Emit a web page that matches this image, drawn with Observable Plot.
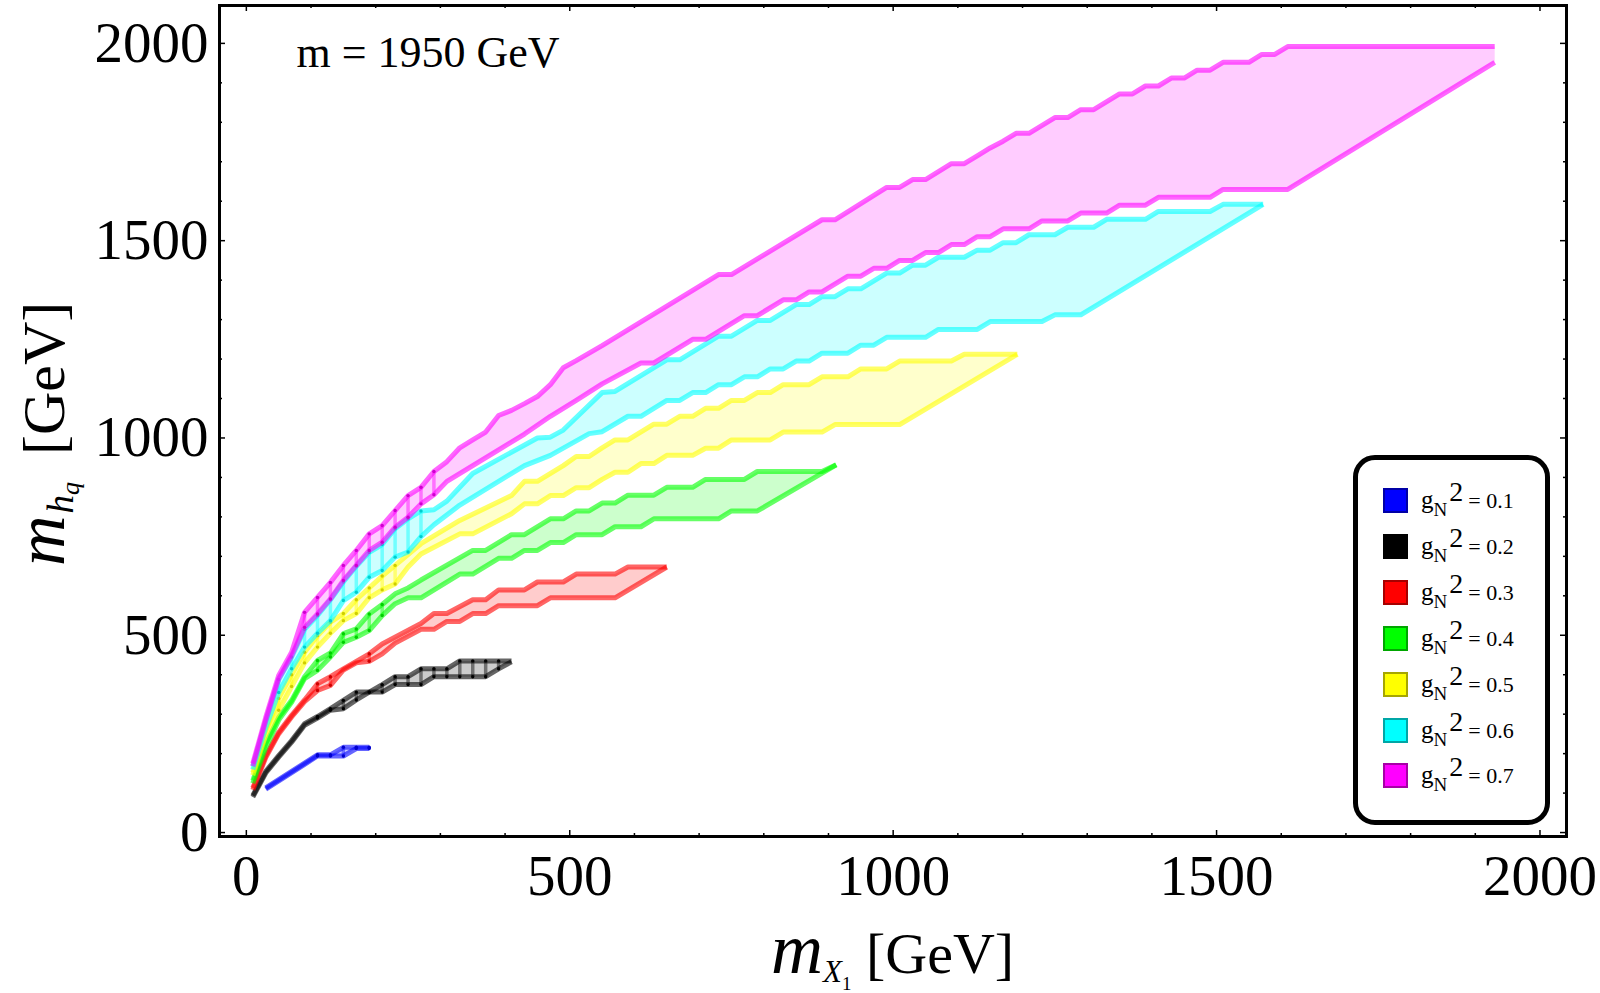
<!DOCTYPE html>
<html><head><meta charset="utf-8">
<script src="https://cdn.jsdelivr.net/npm/d3@7"></script>
<script src="https://cdn.jsdelivr.net/npm/@observablehq/plot@0.6"></script>
<style>
body{margin:0;background:#fff;}
#wrap{position:relative;width:1600px;height:993px;font-family:"Liberation Serif",serif;overflow:hidden;}
#legend{position:absolute;left:1353px;top:455px;width:187px;height:360px;border:5px solid #000;border-radius:22px;background:#fff;box-sizing:content-box;}
.row{position:absolute;left:25px;height:25px;}
.sw{position:absolute;left:0;top:0;width:21px;height:21px;border:2px solid rgba(0,0,0,0.35);}
.lt{position:absolute;left:38px;top:-5px;white-space:nowrap;color:#000;font-family:"Liberation Serif",serif;}
</style></head><body><div id="wrap"></div>
<script>
// ---- data ----
const gN2Values = ["0.1","0.2","0.3","0.4","0.5","0.6","0.7"];
const bandColors = ["#0000ff","#000000","#ff0000","#00ff00","#ffff00","#00ffff","#ff00ff"];
const xTicks = [0,500,1000,1500,2000];
const yTicks = [0,500,1000,1500,2000];
const annotation = "m = 1950 GeV";

const blueUpper = [[30,113],[50,134],[70,155],[90,176],[110,197],[130,197],[150,216],[190,216]];
const blueLower = [[30,110],[50,131],[70,152],[90,173],[110,194],[150,194],[170,213],[190,213]];

const blackUpper = [[10,94],[30,155],[50,195],[70,233],[90,276],[110,294],[130,314],[150,335],[170,356],[190,356],[210,375],[230,395],[250,395],[270,415],[310,415],[330,435],[410,435]];
const blackLower = [[10,90],[30,151],[50,191],[70,229],[90,272],[110,290],[130,310],[150,314],[170,336],[190,356],[210,356],[230,375],[270,375],[290,395],[370,395],[390,415],[410,433]];

const redUpper = [[10,113],[30,195],[50,254],[70,297],[90,336],[110,377],[130,395],[150,415],[170,434],[190,453],[210,478],[270,530],[290,555],[310,555],[350,590],[370,590],[390,615],[430,615],[450,635],[490,635],[510,655],[570,655],[590,673],[650,673]];
const redLower = [[10,108],[30,190],[50,250],[70,293],[90,332],[110,360],[130,373],[150,412],[170,430],[190,434],[210,453],[230,480],[270,515],[290,515],[310,535],[330,535],[350,555],[370,555],[390,575],[450,575],[470,595],[570,595],[650,673]];

const greenUpper = [[10,132],[30,225],[50,292],[70,335],[90,395],[110,436],[130,455],[150,504],[170,516],[190,554],[210,578],[230,605],[250,620],[270,640],[350,715],[370,715],[410,755],[430,755],[470,795],[490,795],[510,815],[530,815],[550,835],[570,835],[590,855],[630,855],[650,875],[690,875],[710,895],[770,895],[790,915],[890,915],[912,932]];
const greenLower = [[10,125],[30,215],[50,285],[70,330],[90,390],[110,411],[130,445],[150,482],[170,495],[190,512],[210,550],[230,580],[250,595],[270,595],[330,655],[350,655],[390,695],[410,695],[430,715],[450,715],[470,735],[490,735],[510,755],[550,755],[570,775],[610,775],[630,795],[730,795],[750,815],[790,815],[912,932]];

const yellowUpper = [[10,152],[30,258],[50,340],[70,400],[90,457],[110,499],[130,533],[150,555],[170,590],[190,620],[210,650],[230,677],[270,732],[330,791],[410,854],[430,890],[450,890],[490,930],[510,953],[530,953],[550,975],[570,995],[590,995],[630,1035],[650,1035],[670,1055],[690,1055],[710,1075],[730,1075],[750,1095],[770,1095],[790,1115],[810,1115],[830,1135],[870,1135],[890,1155],[930,1155],[950,1175],[990,1175],[1010,1195],[1090,1195],[1110,1212],[1192,1212]];
const yellowLower = [[10,145],[30,248],[50,310],[70,370],[90,430],[110,470],[130,505],[150,537],[170,555],[190,595],[210,615],[230,630],[250,673],[270,706],[330,757],[350,757],[410,808],[430,833],[450,833],[470,854],[490,854],[510,874],[530,874],[550,895],[570,913],[590,913],[610,935],[630,935],[650,956],[690,956],[710,974],[730,974],[750,995],[810,995],[830,1015],[890,1015],[910,1034],[1010,1034],[1192,1212]];

const cyanUpper = [[10,168],[30,282],[50,388],[70,445],[90,515],[110,550],[130,590],[150,635],[170,675],[190,710],[210,730],[230,770],[250,795],[270,815],[290,818],[310,840],[330,875],[350,910],[450,1000],[470,1002],[490,1020],[550,1115],[570,1118],[650,1198],[670,1198],[730,1258],[750,1258],[790,1298],[810,1298],[850,1338],[870,1338],[890,1358],[910,1358],[930,1378],[950,1378],[990,1418],[1010,1418],[1030,1438],[1050,1438],[1070,1458],[1110,1458],[1130,1476],[1150,1476],[1170,1495],[1190,1495],[1210,1515],[1250,1515],[1270,1534],[1310,1534],[1330,1554],[1390,1554],[1410,1574],[1490,1574],[1510,1592],[1572,1592]];
const cyanLower = [[10,160],[30,265],[50,355],[70,415],[90,470],[110,505],[130,537],[150,588],[170,609],[190,647],[210,664],[230,698],[250,711],[270,750],[290,780],[330,830],[430,930],[470,956],[530,1011],[550,1016],[590,1055],[610,1055],[650,1095],[670,1095],[690,1115],[710,1115],[730,1135],[750,1135],[770,1155],[790,1155],[810,1175],[830,1175],[850,1195],[870,1195],[890,1215],[930,1215],[950,1235],[970,1235],[990,1255],[1050,1255],[1070,1275],[1130,1275],[1150,1295],[1230,1295],[1250,1312],[1290,1312],[1572,1592]];

const magentaUpper = [[10,175],[30,292],[50,398],[70,457],[90,558],[110,596],[130,634],[150,677],[170,715],[190,757],[210,778],[230,816],[250,854],[270,875],[290,915],[310,940],[330,975],[350,995],[370,1015],[390,1057],[410,1070],[430,1087],[450,1105],[470,1135],[490,1178],[510,1196],[550,1234],[730,1414],[750,1414],[890,1553],[910,1553],[990,1635],[1010,1635],[1030,1655],[1050,1655],[1070,1675],[1090,1695],[1110,1695],[1130,1715],[1150,1735],[1170,1752],[1190,1772],[1210,1772],[1250,1812],[1270,1812],[1290,1832],[1310,1832],[1350,1872],[1370,1872],[1390,1892],[1410,1892],[1430,1912],[1450,1912],[1470,1932],[1490,1932],[1510,1952],[1550,1952],[1570,1972],[1590,1972],[1610,1992],[1930,1992]];
const magentaLower = [[10,168],[30,284],[50,390],[70,448],[90,520],[110,554],[130,592],[150,639],[170,677],[190,715],[210,736],[230,774],[250,799],[270,833],[290,856],[310,890],[350,930],[390,970],[430,1010],[470,1055],[510,1095],[550,1137],[610,1190],[630,1190],[690,1250],[710,1250],[770,1310],[790,1310],[830,1350],[850,1350],[870,1370],[890,1370],[930,1410],[950,1410],[970,1430],[990,1430],[1010,1450],[1030,1450],[1050,1470],[1070,1470],[1090,1490],[1110,1490],[1130,1510],[1150,1510],[1170,1530],[1210,1530],[1230,1550],[1270,1550],[1290,1570],[1330,1570],[1350,1590],[1390,1590],[1410,1610],[1490,1610],[1510,1630],[1610,1630],[1930,1952]];

// mesh (grid) x positions visible as darker vertical bars
const blueMesh = [110,130,150,170,190];
const blackMesh = [110,130,150,170,190,210,230,250,270,290,310,330,350,370,390];
const redMesh = [110,130,190];
const greenMesh = [110,130,150,170,190,210];
const yellowMesh = [50,70,90,110,130,150,170,190,210,230];
const cyanMesh = [50,70,90,110,130,150,170,190,210,230,250,270];
const magentaMesh = [90,110,130,150,170,190,210,230,250,270,290];

const bands = [
  {upper: blueUpper, lower: blueLower, mesh: blueMesh},
  {upper: blackUpper, lower: blackLower, mesh: blackMesh},
  {upper: redUpper, lower: redLower, mesh: redMesh},
  {upper: greenUpper, lower: greenLower, mesh: greenMesh},
  {upper: yellowUpper, lower: yellowLower, mesh: yellowMesh},
  {upper: cyanUpper, lower: cyanLower, mesh: cyanMesh},
  {upper: magentaUpper, lower: magentaLower, mesh: magentaMesh}
].map((b, i) => ({...b, color: bandColors[i], label: gN2Values[i]}));

// ---- layout ----
const W = 1600, H = 993;
const mL = 219, mR = 34, mT = 5, mB = 157;
const plotW = W - mL - mR, plotH = H - mT - mB;

function interp(arr, x) {
  for (let i = 0; i < arr.length - 1; i++) {
    const [x0, y0] = arr[i], [x1, y1] = arr[i + 1];
    if (x >= x0 && x <= x1) return x1 === x0 ? y0 : y0 + (y1 - y0) * (x - x0) / (x1 - x0);
  }
  return arr[arr.length - 1][1];
}

const marks = [];
bands.forEach(b => {
  const poly = b.upper.concat(b.lower.slice().reverse());
  marks.push(Plot.line(poly, {x: d => d[0], y: d => d[1], fill: b.color, fillOpacity: 0.2, stroke: "none"}));
  const meshRows = b.mesh.map(x => ({x, y1: interp(b.lower, x), y2: interp(b.upper, x)}));
  marks.push(Plot.ruleX(meshRows, {x: "x", y1: "y1", y2: "y2", stroke: b.color, strokeOpacity: 0.45, strokeWidth: 3.5}));
  const sw = 5;
  marks.push(Plot.line(b.upper, {x: d => d[0], y: d => d[1], stroke: b.color, strokeOpacity: 0.6, strokeWidth: sw, strokeLinejoin: "round", strokeLinecap: "butt"}));
  marks.push(Plot.line(b.lower, {x: d => d[0], y: d => d[1], stroke: b.color, strokeOpacity: 0.6, strokeWidth: sw, strokeLinejoin: "round", strokeLinecap: "butt"}));
  const dots = meshRows.flatMap(r => [{x: r.x, y: r.y1}, {x: r.x, y: r.y2}]);
  marks.push(Plot.dot(dots, {x: "x", y: "y", r: 1.7, fill: b.color === "#000000" ? "#000" : d3.color(b.color).darker(0.6).formatHex(), stroke: "none"}));
});

const xMinor = d3.range(0, 2001, 100).filter(v => !xTicks.includes(v));
const yMinor = d3.range(0, 2001, 100).filter(v => !yTicks.includes(v));
const tickStyle = {stroke: "#000", strokeWidth: 1.5};
const fmt = d => String(d);

marks.push(
  Plot.tickX(xTicks, {x: d => d, insetTop: plotH - 6, ...tickStyle}),
  Plot.tickX(xTicks, {x: d => d, insetBottom: plotH - 6, ...tickStyle}),
  Plot.tickX(xMinor, {x: d => d, insetTop: plotH - 3, ...tickStyle}),
  Plot.tickX(xMinor, {x: d => d, insetBottom: plotH - 3, ...tickStyle}),
  Plot.tickY(yTicks, {y: d => d, insetRight: plotW - 6, ...tickStyle}),
  Plot.tickY(yTicks, {y: d => d, insetLeft: plotW - 6, ...tickStyle}),
  Plot.tickY(yMinor, {y: d => d, insetRight: plotW - 3, ...tickStyle}),
  Plot.tickY(yMinor, {y: d => d, insetLeft: plotW - 3, ...tickStyle}),
  Plot.axisX(xTicks, {anchor: "bottom", tickSize: 0, tickPadding: 18, fontSize: 57, label: null, fill: "#000", tickFormat: fmt}),
  Plot.axisY(yTicks, {anchor: "left", tickSize: 0, tickPadding: 11, fontSize: 57, label: null, fill: "#000", tickFormat: fmt}),
  Plot.frame({stroke: "#000", strokeWidth: 3}),
  Plot.text([annotation], {frameAnchor: "top-left", dx: 77, dy: 47, textAnchor: "start", lineAnchor: "middle", fontSize: 44, fill: "#000"})
);

const chart = Plot.plot({
  width: W, height: H,
  marginLeft: mL, marginRight: mR, marginTop: mT, marginBottom: mB,
  x: {domain: [-41.5, 2041], axis: null},
  y: {domain: [-10, 2096], axis: null},
  style: {fontFamily: "Liberation Serif, serif", background: "#fff", color: "#000", overflow: "visible"},
  marks
});

const wrap = document.getElementById("wrap");
wrap.appendChild(chart);

// axis titles with sub/superscripts
const svg = d3.select(chart);
const xl = svg.append("text").attr("x", 771).attr("y", 973).attr("text-anchor", "start").attr("font-family", "Liberation Serif, serif").attr("font-size", 58).attr("fill", "#000");
xl.append("tspan").attr("font-style", "italic").attr("font-size", 72).text("m");
xl.append("tspan").attr("font-style", "italic").attr("font-size", 31).attr("dy", 9).text("X");
xl.append("tspan").attr("font-size", 19).attr("dy", 8).text("1");
xl.append("tspan").attr("dy", -17).text(" [GeV]");

const yl = svg.append("text").attr("transform", "translate(64,566) rotate(-90)").attr("text-anchor", "start").attr("font-family", "Liberation Serif, serif").attr("font-size", 60).attr("fill", "#000");
yl.append("tspan").attr("font-style", "italic").attr("font-size", 70).text("m");
yl.append("tspan").attr("font-style", "italic").attr("font-size", 37).attr("dx", 2).attr("dy", 9).text("h");
yl.append("tspan").attr("font-style", "italic").attr("font-size", 26).attr("dy", 6).text("q");
yl.append("tspan").attr("dx", 12).attr("dy", -15).text(" [GeV]");

// legend
const legend = document.createElement("div");
legend.id = "legend";
bands.forEach((b, i) => {
  const row = document.createElement("div");
  row.className = "row";
  row.style.top = (28 + i * 45.9) + "px";
  const sw = document.createElement("div");
  sw.className = "sw";
  sw.style.background = b.color;
  const lt = document.createElement("div");
  lt.className = "lt";
  lt.innerHTML = `<span style="font-size:25px">g</span><span style="font-size:19px;position:relative;top:8px">N</span><span style="font-size:28px;position:relative;top:-7px;margin-left:2px">2</span><span style="font-size:22px;margin-left:5px">= ${b.label}</span>`;
  row.appendChild(sw);
  row.appendChild(lt);
  legend.appendChild(row);
});
wrap.appendChild(legend);
</script></body></html>
